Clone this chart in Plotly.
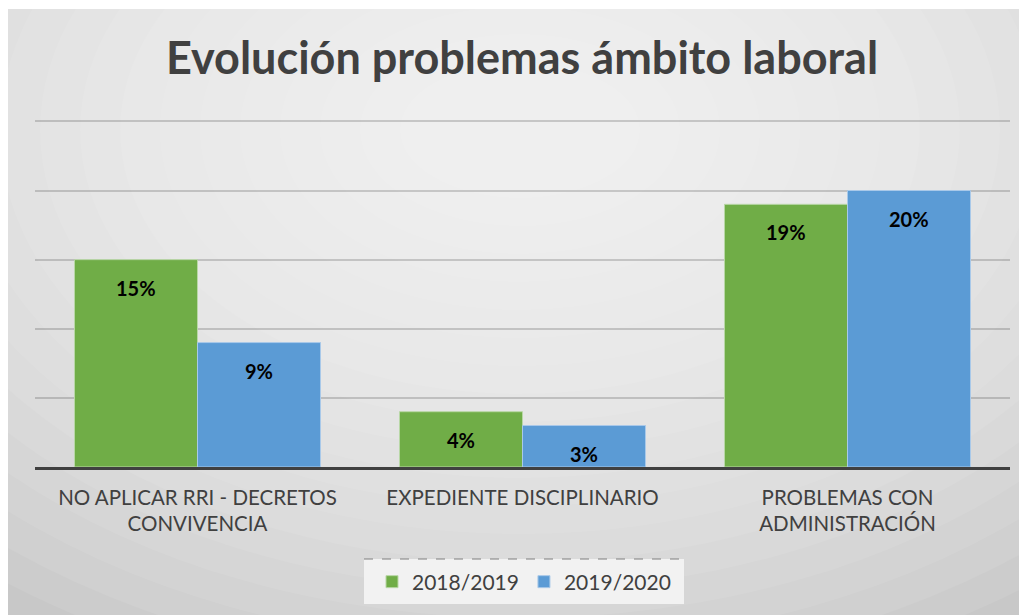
import plotly.graph_objects as go

# data
categorias = ["NO APLICAR RRI - DECRETOS<br>CONVIVENCIA",
              "EXPEDIENTE DISCIPLINARIO",
              "PROBLEMAS CON<br>ADMINISTRACIÓN"]
curso_2018 = [15, 4, 19]
curso_2019 = [9, 3, 20]
etiquetas_2018 = ["15%", "4%", "19%"]
etiquetas_2019 = ["9%", "3%", "20%"]

W, H = 1027, 615
OFF = 8  # page body margin
# plot area in page pixels: x 35..1010, y 120..467 (range 0..25.1)
ML = 35 - OFF
MT = 120 - OFF
MR = W - (1010 - OFF)
MB = H - (467 - OFF)
PW, PH = W - ML - MR, H - MT - MB


def px(x):
    return (x - OFF - ML) / PW


def py(y):
    return 1 - (y - OFF - MT) / PH


fig = go.Figure()
fig.add_trace(go.Bar(
    x=categorias, y=curso_2018, name="2018/2019",
    marker=dict(color="#70ad47", line=dict(color="#b9d7a6", width=1)),
))
fig.add_trace(go.Bar(
    x=categorias, y=curso_2019, name="2019/2020",
    marker=dict(color="#5b9bd5", line=dict(color="#a9c9e9", width=1)),
))

# value labels, inside the top of each bar
annotations = []
for serie, etiquetas, shift in [(curso_2018, etiquetas_2018, -61.5),
                                (curso_2019, etiquetas_2019, 61.5)]:
    for cat, val, lab in zip(categorias, serie, etiquetas):
        annotations.append(dict(x=cat, y=val, xref="x", yref="y", text="<b>%s</b>" % lab,
                                showarrow=False, xshift=shift, yshift=-28,
                                yanchor="middle",
                                font=dict(family="Lato", size=20, color="#000000")))

# background: white edge, grey card with a soft light centre
shapes = [dict(type="rect", xref="paper", yref="paper", layer="below",
               x0=px(5), x1=px(W + 20), y0=py(9), y1=py(H + 20),
               fillcolor="#c4c4c4", line=dict(width=0))]
N = 20
for k in range(N):
    rx = 880 - k * 40
    ry = 600 - k * 28
    cx, cy = 520, 130
    shapes.append(dict(type="circle", xref="paper", yref="paper", layer="below",
                       x0=px(cx - rx), x1=px(cx + rx), y0=py(cy + ry), y1=py(cy - ry),
                       fillcolor="#ffffff", opacity=0.08, line=dict(width=0)))
# legend panel with dashed top edge
shapes.append(dict(type="rect", xref="paper", yref="paper", layer="below",
                   x0=px(364), x1=px(684), y0=py(604), y1=py(559),
                   fillcolor="#f2f2f2", line=dict(width=0)))
shapes.append(dict(type="line", xref="paper", yref="paper", layer="below",
                   x0=px(364), x1=px(684), y0=py(559), y1=py(559),
                   line=dict(color="#7f7f7f", width=1, dash="dash")))

fig.update_layout(
    width=W, height=H,
    margin=dict(l=ML, r=MR, t=MT, b=MB),
    paper_bgcolor="#ffffff",
    plot_bgcolor="rgba(0,0,0,0)",
    title=dict(text="<b>Evolución problemas ámbito laboral</b>",
               x=px(523), xanchor="center", y=1 - (58 - OFF) / H, yanchor="middle",
               font=dict(family="Lato", size=45, color="#404040")),
    barmode="group", bargap=0.243, bargroupgap=0,
    shapes=shapes,
    annotations=annotations,
    showlegend=True,
    legend=dict(orientation="h", x=px(524), xanchor="center",
                y=py(582), yanchor="middle",
                bgcolor="rgba(0,0,0,0)",
                font=dict(family="Lato", size=21, color="#404040"),
                itemwidth=30, traceorder="normal"),
    font=dict(family="Lato", color="#404040"),
)
fig.update_xaxes(showline=True, linecolor="#404040", linewidth=3,
                 ticks="", ticklabelstandoff=10,
                 tickfont=dict(family="Lato", size=20.5, color="#404040"))
fig.update_yaxes(range=[0, 25.1], tickvals=[5, 10, 15, 20, 25], showticklabels=False,
                 showgrid=True, gridcolor="rgba(0,0,0,0.17)", gridwidth=1.5,
                 zeroline=False)

fig.write_html("out.html")
